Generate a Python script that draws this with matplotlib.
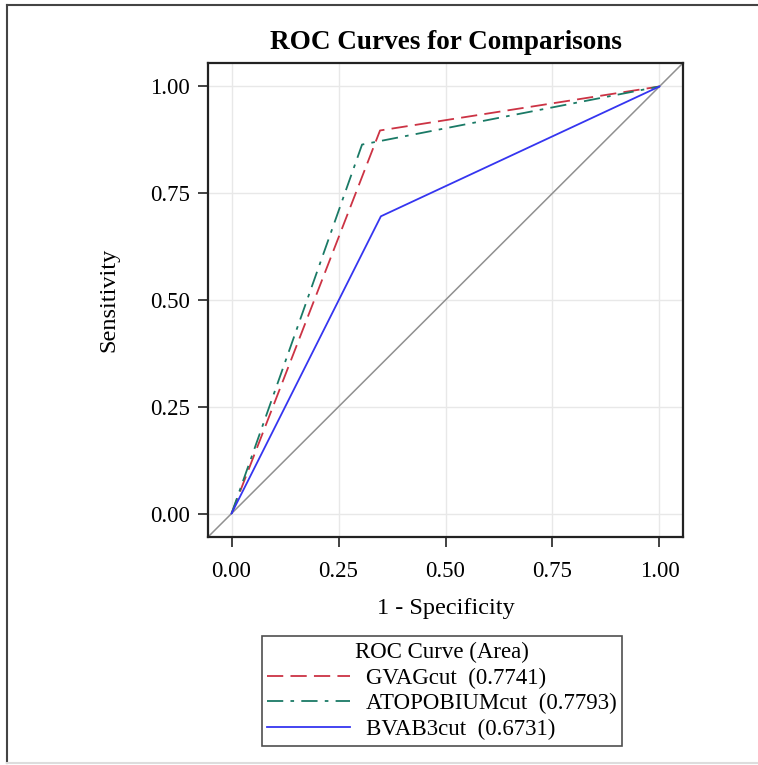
import matplotlib
matplotlib.use("Agg")
import matplotlib.pyplot as plt
from matplotlib.lines import Line2D

plt.rcParams['font.family'] = ['Liberation Serif', 'DejaVu Serif']

# Data
names = ["GVAGcut", "ATOPOBIUMcut", "BVAB3cut"]
areas = [0.7741, 0.7793, 0.6731]
fpr = {
    "GVAGcut": [0.0, 0.347, 1.0],
    "ATOPOBIUMcut": [0.0, 0.305, 1.0],
    "BVAB3cut": [0.0, 0.349, 1.0],
}
tpr = {
    "GVAGcut": [0.0, 0.897, 1.0],
    "ATOPOBIUMcut": [0.0, 0.864, 1.0],
    "BVAB3cut": [0.0, 0.696, 1.0],
}
ticks = [0.0, 0.25, 0.5, 0.75, 1.0]
tick_labels = ["0.00", "0.25", "0.50", "0.75", "1.00"]

colors = {"GVAGcut": "#cc3344", "ATOPOBIUMcut": "#1a7a66", "BVAB3cut": "#3535f0"}
styles = {"GVAGcut": (0, (9, 4)), "ATOPOBIUMcut": (0, (9, 4, 2, 4)), "BVAB3cut": "-"}

fig = plt.figure(figsize=(7.58, 7.65), dpi=100)
ax = fig.add_axes([208/758, 1-537/765, (683-208)/758, (537-63)/765])

lim = (-0.055, 1.055)
ax.plot([lim[0], lim[1]], [lim[0], lim[1]], color="#909090", lw=1.1, zorder=2)
for n in names:
    ax.plot(fpr[n], tpr[n], color=colors[n], ls=styles[n], lw=1.3, zorder=3)

ax.set_xlim(lim)
ax.set_ylim(lim)
ax.set_xticks(ticks)
ax.set_xticklabels(tick_labels)
ax.set_yticks(ticks)
ax.set_yticklabels(tick_labels)
ax.grid(True, color="#e8e8e8", lw=1.0, zorder=0)
ax.set_axisbelow(True)
ax.tick_params(labelsize=16.5, length=7, width=1.2, color="#222222", pad=6)
ax.tick_params(axis="x", pad=10)
for s in ax.spines.values():
    s.set_linewidth(1.6)
    s.set_color("#222222")
ax.set_title("ROC Curves for Comparisons", fontsize=19.5, fontweight="bold", pad=10)
ax.set_xlabel("1 - Specificity", fontsize=17.5, labelpad=12)
ax.set_ylabel("Sensitivity", fontsize=17.5, labelpad=22)

handles = [Line2D([0], [0], color=colors[n], ls=styles[n], lw=1.3) for n in names]
labels = [f"{n}  ({a:.4f})" for n, a in zip(names, areas)]
leg = fig.legend(handles, labels, title="ROC Curve (Area)", loc="upper center",
                 bbox_to_anchor=(442/758, 1-636/765), fontsize=16.5, title_fontsize=16.5,
                 frameon=True, fancybox=False, edgecolor="#222222", handlelength=3.6,
                 borderpad=0.25, labelspacing=0.2, handletextpad=0.7, borderaxespad=0)
leg.get_frame().set_linewidth(1.2)

# outer frame
fig.add_artist(Line2D([7/758, 7/758], [1-5/765, 1-763/765], color="#444444", lw=1.5, transform=fig.transFigure))
fig.add_artist(Line2D([7/758, 1.0], [1-5/765, 1-5/765], color="#444444", lw=1.5, transform=fig.transFigure))
fig.add_artist(Line2D([7/758, 1.0], [1-763/765, 1-763/765], color="#dddddd", lw=1.5, transform=fig.transFigure))

fig.savefig("out.png", dpi=100)
